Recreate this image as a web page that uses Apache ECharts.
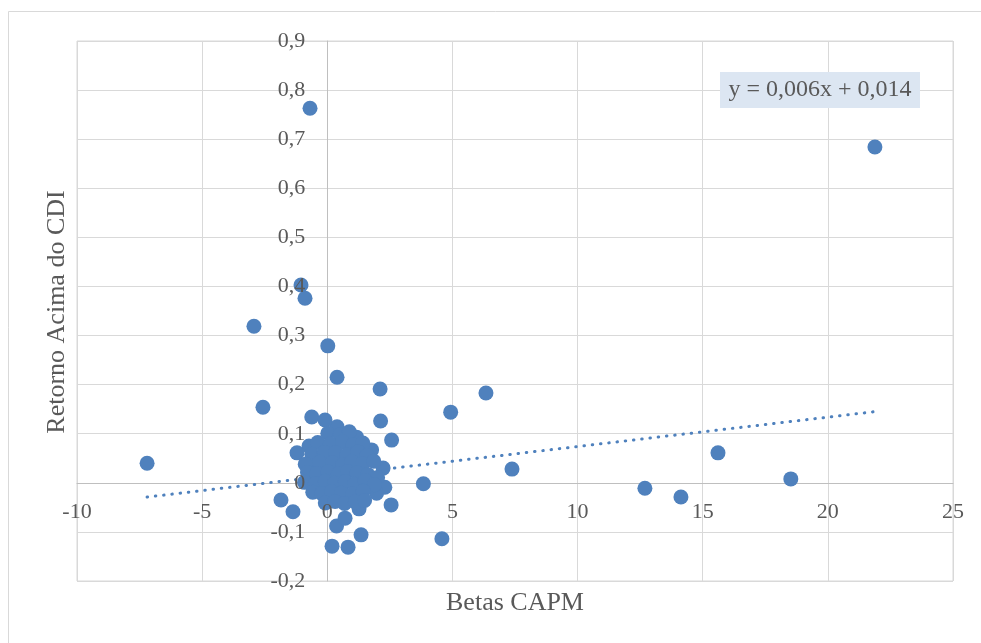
<!DOCTYPE html>
<html>
<head>
<meta charset="utf-8">
<script src="https://cdn.jsdelivr.net/npm/echarts@6/dist/echarts.min.js"></script>
<style>
html,body{margin:0;padding:0;background:#fff;}
#chart{width:981px;height:643px;}
</style>
</head>
<body>
<div id="chart"></div>
<script>
// Betas CAPM (x) and Retorno Acima do CDI (y)
const betas = [
  -0.69, 21.88, -1.05, -0.89, -2.93, 0.02, 0.39, 2.11, -2.57, 6.34,
  4.93, 2.13, 2.57, 7.38, 3.84, 2.55, -7.2, 12.69, 14.13, 15.61,
  18.52, 4.58, -1.85, -1.37, 0.19, 0.83, 1.35, 0.37, 0.71, 1.27,
  2.3, 1.97, 2.23, 1.77, 1.17, 0.39, -0.62, -0.09, -0.73, -1.21,
  -0.69, -0.57,
  0.02, 0.52, 0.88,
  -0.38, 0.12, 0.61, 1.03, 1.42,
  -0.62, -0.12, 0.33, 0.79, 1.22, 1.58,
  -0.88, -0.31, 0.21, 0.63, 0.98, 1.41, 1.86,
  -0.79, -0.42, 0.03, 0.44, 0.81, 1.19, 1.62, 2.01,
  -0.91, -0.48, -0.08, 0.29, 0.72, 1.09, 1.51, 1.88,
  -0.58, -0.21, 0.18, 0.57, 1.02, 1.43,
  -0.08, 0.31, 0.69, 1.12, 1.49
];
const retornos = [
  0.763, 0.684, 0.403, 0.376, 0.319, 0.279, 0.215, 0.191, 0.154, 0.183,
  0.144, 0.126, 0.087, 0.028, -0.002, -0.045, 0.04, -0.011, -0.029, 0.061,
  0.008, -0.114, -0.035, -0.059, -0.129, -0.131, -0.106, -0.088, -0.072, -0.053,
  -0.009, -0.021, 0.03, 0.067, 0.093, 0.114, 0.134, 0.128, 0.075, 0.061,
  0.012, 0.04,
  0.101, 0.098, 0.104,
  0.082, 0.079, 0.083, 0.077, 0.081,
  0.058, 0.062, 0.061, 0.057, 0.063, 0.055,
  0.038, 0.042, 0.041, 0.037, 0.043, 0.039, 0.044,
  0.021, 0.019, 0.022, 0.018, 0.023, 0.02, 0.017, 0.011,
  0.001, -0.002, 0.003, -0.001, 0.002, -0.003, 0.004, -0.004,
  -0.019, -0.022, -0.018, -0.021, -0.023, -0.017,
  -0.041, -0.038, -0.042, -0.039, -0.036
];
// Trendline y = 0,006x + 0,014 endpoints
const trendX = [-7.2, 21.88];
const trendY = [-0.029, 0.145];
const xTicks = [-10, 25, 5];
const yTicks = [-0.2, 0.9, 0.1];
const equationText = 'y = 0,006x + 0,014';
const xTitle = 'Betas CAPM';
const yTitle = 'Retorno Acima do CDI';

const pts = betas.map((b, i) => [b, retornos[i]]);
const trend = trendX.map((x, i) => [x, trendY[i]]);

const FONT = '"Liberation Serif", "Times New Roman", serif';
const TXT = '#595959';

const W = 981, H = 643;
const G = {left: 77, top: 41, right: 28, bottom: 62};
const gw = W - G.left - G.right, gh = H - G.top - G.bottom;
// offsets so that each axis sits on the other's zero
const yOffset = -(0 - xTicks[0]) / (xTicks[1] - xTicks[0]) * gw;
const xOffset = -(0 - yTicks[0]) / (yTicks[1] - yTicks[0]) * gh;

const xLabelStyle = {color: TXT, fontFamily: FONT, fontSize: 22, margin: 18, formatter: v => String(v)};
const yLabelStyle = {color: TXT, fontFamily: FONT, fontSize: 22, margin: 22,
  formatter: v => (Math.round(v * 10) / 10).toString().replace('.', ',')};

function xAx(gridIndex, labelsOnly) {
  return {
    gridIndex, type: 'value', min: xTicks[0], max: xTicks[1], interval: xTicks[2],
    position: 'bottom', offset: xOffset, z: labelsOnly ? 5 : 0,
    axisLine: {show: !labelsOnly, onZero: false, lineStyle: {color: '#bfbfbf', width: 1}},
    axisTick: {show: false},
    splitLine: {show: !labelsOnly, lineStyle: {color: '#d9d9d9', width: 1}},
    axisLabel: Object.assign({show: labelsOnly}, xLabelStyle)
  };
}
function yAx(gridIndex, labelsOnly) {
  return {
    gridIndex, type: 'value', min: yTicks[0], max: yTicks[1], interval: yTicks[2],
    position: 'left', offset: yOffset, z: labelsOnly ? 5 : 0,
    axisLine: {show: !labelsOnly, onZero: false, lineStyle: {color: '#bfbfbf', width: 1}},
    axisTick: {show: false},
    splitLine: {show: !labelsOnly, lineStyle: {color: '#d9d9d9', width: 1}},
    axisLabel: Object.assign({show: labelsOnly}, yLabelStyle)
  };
}

const chart = echarts.init(document.getElementById('chart'), null, {renderer: 'canvas'});
chart.setOption({
  backgroundColor: '#ffffff',
  animation: false,
  grid: [
    Object.assign({show: true, borderColor: '#d9d9d9', borderWidth: 1}, G),
    Object.assign({show: false}, G)
  ],
  xAxis: [xAx(0, false), xAx(1, true)],
  yAxis: [yAx(0, false), yAx(1, true)],
  series: [
    {
      type: 'line', data: trend, symbol: 'none', z: 1, silent: true,
      xAxisIndex: 0, yAxisIndex: 0,
      lineStyle: {color: '#4F81BD', width: 3, type: [0.5, 7.8], cap: 'round'}
    },
    {
      type: 'scatter', data: pts, symbolSize: 15, z: 2,
      xAxisIndex: 0, yAxisIndex: 0,
      itemStyle: {color: '#4F81BD', opacity: 1}
    }
  ],
  graphic: [
    {type: 'rect', shape: {x: 8.5, y: 11.5, width: 1100, height: 1100},
      style: {fill: 'none', stroke: '#d9d9d9', lineWidth: 1}, z: -10, silent: true},
    {type: 'rect', shape: {x: 720, y: 72, width: 200, height: 36},
      style: {fill: '#dce6f2'}, z: 10},
    {type: 'text', x: 820, y: 90, z: 11,
      style: {text: equationText, fill: TXT, font: '24px ' + FONT, textAlign: 'center', textVerticalAlign: 'middle'}},
    {type: 'text', x: 515, y: 603, z: 11,
      style: {text: xTitle, fill: TXT, font: '26px ' + FONT, textAlign: 'center', textVerticalAlign: 'middle'}},
    {type: 'text', x: 57, y: 312, rotation: Math.PI / 2, z: 11,
      style: {text: yTitle, fill: TXT, font: '26px ' + FONT, textAlign: 'center', textVerticalAlign: 'middle'}}
  ]
});
</script>
</body>
</html>
